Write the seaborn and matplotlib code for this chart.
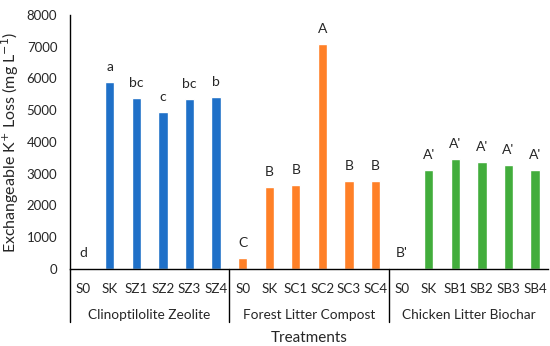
import pandas as pd
import matplotlib.pyplot as plt
import seaborn as sns

# --- data ---
groups = ["Clinoptilolite Zeolite", "Forest Litter Compost", "Chicken Litter Biochar"]
zeolite_labels = ["S0", "SK", "SZ1", "SZ2", "SZ3", "SZ4"]
compost_labels = ["S0", "SK", "SC1", "SC2", "SC3", "SC4"]
biochar_labels = ["S0", "SK", "SB1", "SB2", "SB3", "SB4"]
zeolite_values = [30, 5890, 5370, 4945, 5340, 5400]
compost_values = [350, 2580, 2650, 7090, 2780, 2780]
biochar_values = [20, 3110, 3460, 3370, 3280, 3130]
zeolite_letters = ["d", "a", "bc", "c", "bc", "b"]
compost_letters = ["C", "B", "B", "A", "B", "B"]
biochar_letters = ["B'", "A'", "A'", "A'", "A'", "A'"]
colors = ["#1F70C8", "#FF8027", "#42AD3C"]

rows = []
for g, labs, vals, lets in zip(groups,
                               [zeolite_labels, compost_labels, biochar_labels],
                               [zeolite_values, compost_values, biochar_values],
                               [zeolite_letters, compost_letters, biochar_letters]):
    for lab, v, let in zip(labs, vals, lets):
        rows.append({"key": f"{g}|{lab}", "label": lab, "group": g, "value": v, "letter": let})
df = pd.DataFrame(rows)

sns.set_style("white")
plt.rcParams['font.family'] = ['Lato', 'DejaVu Sans']

fig = plt.figure(figsize=(5.5, 3.46), dpi=100)
ax = fig.add_axes([0.127, 0.2225, 0.87, 0.7345])

sns.barplot(data=df, x="key", y="value", hue="group", palette=colors,
            dodge=False, width=0.35, saturation=1, legend=False, ax=ax)

ax.set_xlim(-0.5, len(df) - 0.5)
ax.set_ylim(0, 8000)
ax.set_yticks(range(0, 8001, 1000))
ax.tick_params(axis="y", labelsize=9.5, length=0, pad=9)
ax.set_xticks(range(len(df)))
ax.set_xticklabels(df["label"], fontsize=9.6)
ax.tick_params(axis="x", length=0, pad=10)

for s in ["top", "right"]:
    ax.spines[s].set_visible(False)
ax.spines["left"].set_color("black")
ax.spines["bottom"].set_color("black")
ax.spines["left"].set_linewidth(1.0)
ax.spines["bottom"].set_linewidth(1.0)

# significance letters
for i, r in df.iterrows():
    ax.annotate(r["letter"], (i, r["value"]), xytext=(0, 6.5), textcoords="offset points",
                ha="center", va="bottom", fontsize=10)

# group dividers and group labels below the axis
trans = ax.get_xaxis_transform()
for k in range(len(groups)):
    start = k * 6 - 0.5
    ax.plot([start, start], [0, -0.21], color="black", lw=1.0, transform=trans, clip_on=False)
    ax.text(start + 3, -0.18, groups[k], ha="center", va="center", fontsize=9.8, transform=trans)

ax.set_xlabel("Treatments", fontsize=11)
ax.set_ylabel("Exchangeable K$^{+}$ Loss (mg L$^{-1}$)", fontsize=11.5)
ax.xaxis.set_label_coords(0.5, -0.243)

fig.savefig("out.png", dpi=100)
